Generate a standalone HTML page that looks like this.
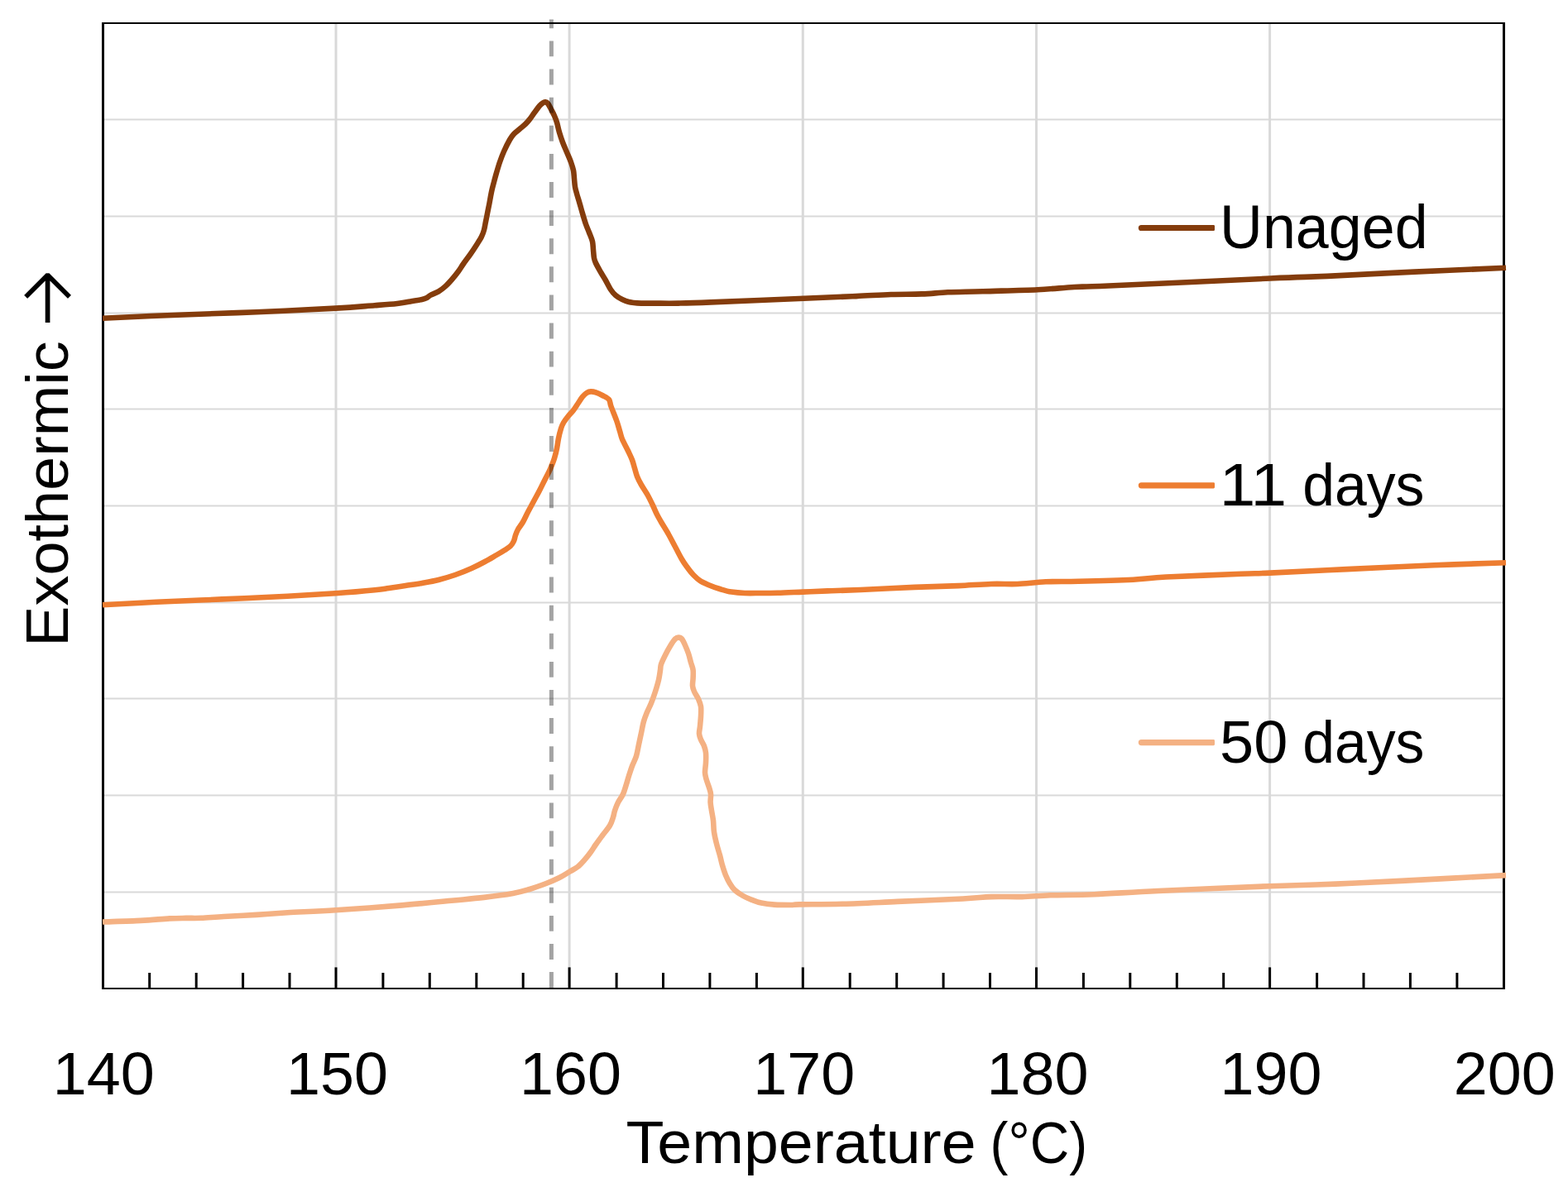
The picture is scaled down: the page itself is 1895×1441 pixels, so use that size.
<!DOCTYPE html>
<html lang="en"><head><meta charset="utf-8"><title>DSC thermograms</title>
<style>html,body{margin:0;padding:0;background:#fff;}body{width:1895px;height:1441px;overflow:hidden;}svg{display:block;}text{font-family:"Liberation Sans",Arial,sans-serif;fill:#000;}</style></head><body>
<svg width="1895" height="1441" viewBox="0 0 1895 1441">
<rect width="1895" height="1441" fill="#fff"/>
<g stroke="#d9d9d9" fill="none"><line x1="406.0" y1="29" x2="406.0" y2="1194" stroke-width="3"/><line x1="688.1" y1="29" x2="688.1" y2="1194" stroke-width="3"/><line x1="970.3" y1="29" x2="970.3" y2="1194" stroke-width="3"/><line x1="1252.5" y1="29" x2="1252.5" y2="1194" stroke-width="3"/><line x1="1534.6" y1="29" x2="1534.6" y2="1194" stroke-width="3"/><line x1="126" y1="144.5" x2="1816" y2="144.5" stroke-width="2.2"/><line x1="126" y1="261.5" x2="1816" y2="261.5" stroke-width="2.2"/><line x1="126" y1="378.5" x2="1816" y2="378.5" stroke-width="2.2"/><line x1="126" y1="494.5" x2="1816" y2="494.5" stroke-width="2.2"/><line x1="126" y1="611.5" x2="1816" y2="611.5" stroke-width="2.2"/><line x1="126" y1="728.5" x2="1816" y2="728.5" stroke-width="2.2"/><line x1="126" y1="844.5" x2="1816" y2="844.5" stroke-width="2.2"/><line x1="126" y1="961.5" x2="1816" y2="961.5" stroke-width="2.2"/><line x1="126" y1="1078.5" x2="1816" y2="1078.5" stroke-width="2.2"/></g>
<g fill="#000"><rect x="123" y="27" width="3" height="1169"/><rect x="1816" y="27" width="3" height="1169"/><rect x="123" y="27" width="1696" height="2"/><rect x="123" y="1194" width="1696" height="2"/></g>
<g fill="#000"><rect x="179.2" y="1176" width="3" height="19"/><rect x="235.7" y="1176" width="3" height="19"/><rect x="292.1" y="1176" width="3" height="19"/><rect x="348.5" y="1176" width="3" height="19"/><rect x="404.5" y="1169.4" width="3" height="25"/><rect x="461.4" y="1176" width="3" height="19"/><rect x="517.8" y="1176" width="3" height="19"/><rect x="574.3" y="1176" width="3" height="19"/><rect x="630.7" y="1176" width="3" height="19"/><rect x="686.6" y="1169.4" width="3" height="25"/><rect x="743.6" y="1176" width="3" height="19"/><rect x="800.0" y="1176" width="3" height="19"/><rect x="856.4" y="1176" width="3" height="19"/><rect x="912.9" y="1176" width="3" height="19"/><rect x="968.8" y="1169.4" width="3" height="25"/><rect x="1025.7" y="1176" width="3" height="19"/><rect x="1082.2" y="1176" width="3" height="19"/><rect x="1138.6" y="1176" width="3" height="19"/><rect x="1195.0" y="1176" width="3" height="19"/><rect x="1251.0" y="1169.4" width="3" height="25"/><rect x="1307.9" y="1176" width="3" height="19"/><rect x="1364.3" y="1176" width="3" height="19"/><rect x="1420.8" y="1176" width="3" height="19"/><rect x="1477.2" y="1176" width="3" height="19"/><rect x="1533.1" y="1169.4" width="3" height="25"/><rect x="1590.1" y="1176" width="3" height="19"/><rect x="1646.5" y="1176" width="3" height="19"/><rect x="1702.9" y="1176" width="3" height="19"/><rect x="1759.4" y="1176" width="3" height="19"/></g>
<path d="M124.0 384.7C139.2 384.0 184.0 381.9 215.0 380.7C246.0 379.4 278.2 378.5 310.0 377.2C341.8 375.9 381.9 373.9 405.7 372.6C429.5 371.3 440.5 370.1 452.9 369.2C465.3 368.3 472.8 367.8 480.0 367.0C487.2 366.2 491.0 365.2 496.0 364.4C501.0 363.6 506.7 362.7 510.0 362.0C513.3 361.3 514.3 360.8 516.0 360.0C517.7 359.2 517.7 358.3 520.0 357.0C522.3 355.7 527.0 354.2 530.0 352.4C533.0 350.6 535.3 348.8 538.0 346.4C540.7 344.0 543.3 341.1 546.0 338.0C548.7 334.9 551.7 331.2 554.0 328.0C556.3 324.8 557.7 322.3 560.0 319.0C562.3 315.7 565.3 311.8 568.0 308.0C570.7 304.2 573.7 299.7 576.0 296.0C578.3 292.3 580.5 289.0 582.0 286.0C583.5 283.0 584.2 281.0 585.0 278.0C585.8 275.0 586.3 271.3 587.0 268.0C587.7 264.7 588.3 261.7 589.0 258.0C589.7 254.3 590.6 250.3 591.4 246.0C592.2 241.7 593.1 236.3 594.0 232.0C594.9 227.7 596.0 223.8 597.0 220.0C598.0 216.2 598.8 213.0 600.0 209.0C601.2 205.0 602.5 200.3 604.0 196.0C605.5 191.7 607.0 187.5 609.0 183.0C611.0 178.5 614.0 172.5 616.0 169.0C618.0 165.5 619.0 164.2 621.0 162.0C623.0 159.8 625.7 158.0 628.0 156.0C630.3 154.0 633.0 151.9 635.0 150.0C637.0 148.1 638.2 146.7 640.0 144.4C641.8 142.1 644.0 138.7 646.0 136.0C648.0 133.3 650.3 129.9 652.0 128.0C653.7 126.1 654.8 125.2 656.0 124.4C657.2 123.6 658.0 123.3 659.0 123.4C660.0 123.5 660.8 123.6 662.0 125.0C663.2 126.4 664.7 129.5 666.0 132.0C667.3 134.5 668.8 137.3 670.0 140.0C671.2 142.7 672.0 144.7 673.0 148.0C674.0 151.3 674.8 156.0 676.0 160.0C677.2 164.0 678.5 168.0 680.0 172.0C681.5 176.0 683.3 180.0 685.0 184.0C686.7 188.0 688.7 192.3 690.0 196.0C691.3 199.7 692.3 202.7 693.0 206.0C693.7 209.3 693.7 212.7 694.0 216.0C694.3 219.3 694.5 223.0 695.0 226.0C695.5 229.0 696.2 231.0 697.0 234.0C697.8 237.0 698.8 240.0 700.0 244.0C701.2 248.0 702.7 253.5 704.0 258.0C705.3 262.5 706.7 267.2 708.0 271.0C709.3 274.8 710.7 277.5 712.0 281.0C713.3 284.5 715.2 288.5 716.0 292.0C716.8 295.5 716.7 298.7 717.0 302.0C717.3 305.3 717.5 309.3 718.0 312.0C718.5 314.7 718.7 315.2 720.0 318.0C721.3 320.8 724.0 325.5 726.0 329.0C728.0 332.5 730.0 335.5 732.0 339.0C734.0 342.5 736.0 347.0 738.0 350.0C740.0 353.0 741.7 355.0 744.0 357.0C746.3 359.0 749.3 360.7 752.0 362.0C754.7 363.3 757.0 364.3 760.0 365.0C763.0 365.7 765.0 366.1 770.0 366.4C775.0 366.7 781.7 366.6 790.0 366.6C798.3 366.6 808.5 366.8 820.0 366.6C831.5 366.4 833.8 366.4 859.0 365.4C884.2 364.4 942.1 361.9 971.4 360.7C1000.7 359.5 1017.1 358.9 1034.7 358.1C1052.3 357.3 1063.7 356.4 1076.9 356.0C1090.1 355.5 1102.4 355.9 1113.9 355.4C1125.3 355.0 1133.2 353.9 1145.5 353.3C1157.8 352.8 1169.7 352.8 1187.7 352.3C1205.8 351.7 1235.2 351.0 1253.7 350.2C1272.2 349.3 1284.2 347.8 1298.5 347.0C1312.9 346.2 1300.5 347.3 1340.0 345.5C1379.5 343.8 1491.3 338.5 1535.3 336.5C1579.2 334.6 1574.8 335.2 1603.9 333.9C1632.9 332.6 1673.4 330.3 1709.4 328.6C1745.4 326.9 1801.6 324.6 1820.0 323.8" fill="none" stroke="#843c0c" stroke-width="6.6" stroke-linejoin="round" stroke-linecap="butt"/>
<path d="M124.0 731.3C134.9 730.7 165.1 729.0 189.2 727.8C213.2 726.7 241.9 725.6 268.3 724.4C294.7 723.2 324.6 721.9 347.5 720.7C370.3 719.5 387.9 718.5 405.5 717.3C423.1 716.1 442.3 714.4 453.0 713.3C463.8 712.3 463.8 711.9 470.0 711.0C476.2 710.1 483.3 709.0 490.0 708.0C496.7 707.0 503.3 706.2 510.0 705.0C516.7 703.8 523.3 702.7 530.0 701.0C536.7 699.3 543.3 697.3 550.0 695.0C556.7 692.7 564.0 689.7 570.0 687.0C576.0 684.3 581.0 681.7 586.0 679.0C591.0 676.3 596.0 673.3 600.0 671.0C604.0 668.7 607.2 666.8 610.0 665.0C612.8 663.2 615.2 661.8 617.0 660.0C618.8 658.2 620.0 656.2 621.0 654.0C622.0 651.8 622.2 649.3 623.0 647.0C623.8 644.7 624.5 642.7 626.0 640.0C627.5 637.3 630.0 634.5 632.0 631.0C634.0 627.5 635.8 623.2 638.0 619.0C640.2 614.8 642.7 610.3 645.0 606.0C647.3 601.7 649.7 597.5 652.0 593.0C654.3 588.5 656.8 583.3 659.0 579.0C661.2 574.7 663.2 571.2 665.0 567.0C666.8 562.8 668.7 558.2 670.0 554.0C671.3 549.8 672.2 546.0 673.0 542.0C673.8 538.0 674.2 534.0 675.0 530.0C675.8 526.0 677.0 521.2 678.0 518.0C679.0 514.8 679.7 513.3 681.0 511.0C682.3 508.7 684.0 506.5 686.0 504.0C688.0 501.5 690.8 498.8 693.0 496.0C695.2 493.2 697.2 489.7 699.0 487.0C700.8 484.3 702.3 481.6 704.0 479.6C705.7 477.6 707.3 476.0 709.0 475.0C710.7 474.0 712.2 473.5 714.0 473.4C715.8 473.3 717.7 473.6 720.0 474.4C722.3 475.2 725.3 476.6 728.0 478.0C730.7 479.4 734.3 480.8 736.0 483.0C737.7 485.2 736.9 486.8 738.4 491.0C739.9 495.2 743.2 503.0 745.0 508.0C746.8 513.0 747.8 517.2 749.0 521.0C750.2 524.8 750.3 527.0 752.0 531.0C753.7 535.0 757.0 540.8 759.0 545.0C761.0 549.2 762.7 552.5 764.0 556.0C765.3 559.5 766.0 562.7 767.0 566.0C768.0 569.3 768.7 572.7 770.0 576.0C771.3 579.3 772.8 582.2 775.0 586.0C777.2 589.8 780.7 594.8 783.0 599.0C785.3 603.2 787.2 607.2 789.0 611.0C790.8 614.8 792.3 618.7 794.0 622.0C795.7 625.3 796.7 627.0 799.0 631.0C801.3 635.0 805.2 641.0 808.0 646.0C810.8 651.0 813.3 656.0 816.0 661.0C818.7 666.0 821.7 672.0 824.0 676.0C826.3 680.0 827.7 681.8 830.0 685.0C832.3 688.2 835.3 692.2 838.0 695.0C840.7 697.8 843.0 700.0 846.0 702.0C849.0 704.0 852.0 705.3 856.0 707.0C860.0 708.7 865.3 710.6 870.0 712.0C874.7 713.4 879.0 714.8 884.0 715.6C889.0 716.4 894.0 716.8 900.0 717.0C906.0 717.2 913.3 717.0 920.0 717.0C926.7 717.0 931.7 717.0 940.0 716.8C948.3 716.6 960.0 716.0 970.0 715.6C980.0 715.2 988.3 714.8 1000.0 714.4C1011.7 714.0 1022.4 713.7 1040.0 713.0C1057.6 712.3 1085.8 710.7 1105.5 709.9C1125.3 709.1 1142.9 708.7 1158.3 708.1C1173.7 707.4 1186.0 706.3 1197.9 706.0C1209.8 705.6 1218.6 706.4 1229.6 706.0C1240.5 705.5 1251.5 703.9 1263.9 703.3C1276.2 702.8 1285.8 703.2 1303.4 702.8C1321.0 702.4 1351.8 701.6 1369.4 700.7C1387.0 699.8 1387.2 698.7 1409.0 697.5C1430.7 696.4 1479.0 694.7 1500.0 693.8C1521.0 693.0 1513.9 693.5 1535.1 692.6C1556.4 691.6 1594.5 689.6 1627.5 688.1C1660.4 686.5 1700.9 684.6 1733.0 683.3C1765.1 682.0 1805.5 680.7 1820.0 680.2" fill="none" stroke="#ed7d31" stroke-width="6.6" stroke-linejoin="round" stroke-linecap="butt"/>
<path d="M124.0 1114.5C131.7 1114.2 156.5 1113.6 170.0 1112.9C183.5 1112.2 195.8 1110.9 205.0 1110.4C214.2 1109.9 218.7 1110.0 225.0 1109.9C231.3 1109.8 235.4 1110.1 243.0 1109.8C250.6 1109.5 259.2 1108.6 270.4 1108.0C281.6 1107.3 297.2 1106.7 310.0 1105.9C322.8 1105.1 331.5 1104.3 347.5 1103.3C363.4 1102.4 383.5 1101.6 405.5 1100.2C427.5 1098.8 456.1 1096.8 479.4 1094.9C502.7 1093.0 527.8 1090.5 545.4 1088.8C562.9 1087.1 572.5 1086.3 584.9 1084.9C597.4 1083.4 610.8 1081.6 620.0 1080.0C629.2 1078.4 633.3 1077.0 640.0 1075.0C646.7 1073.0 654.0 1070.3 660.0 1068.0C666.0 1065.7 671.3 1063.3 676.0 1061.0C680.7 1058.7 684.3 1056.2 688.0 1054.0C691.7 1051.8 695.0 1050.3 698.0 1048.0C701.0 1045.7 703.3 1043.0 706.0 1040.0C708.7 1037.0 711.7 1033.2 714.0 1030.0C716.3 1026.8 717.7 1024.3 720.0 1021.0C722.3 1017.7 725.2 1013.8 728.0 1010.0C730.8 1006.2 734.8 1001.7 737.0 998.0C739.2 994.3 740.0 991.0 741.0 988.0C742.0 985.0 742.0 983.0 743.0 980.0C744.0 977.0 745.3 973.3 747.0 970.0C748.7 966.7 751.3 963.7 753.0 960.0C754.7 956.3 755.8 951.7 757.0 948.0C758.2 944.3 758.8 941.7 760.0 938.0C761.2 934.3 762.5 930.0 764.0 926.0C765.5 922.0 767.7 918.3 769.0 914.0C770.3 909.7 771.0 904.7 772.0 900.0C773.0 895.3 774.0 890.7 775.0 886.0C776.0 881.3 776.8 876.2 778.0 872.0C779.2 867.8 780.5 864.7 782.0 861.0C783.5 857.3 785.3 854.2 787.0 850.0C788.7 845.8 790.5 840.7 792.0 836.0C793.5 831.3 795.0 826.3 796.0 822.0C797.0 817.7 797.5 813.2 798.0 810.0C798.5 806.8 798.0 806.0 799.0 803.0C800.0 800.0 802.2 795.7 804.0 792.0C805.8 788.3 808.0 784.3 810.0 781.0C812.0 777.7 814.3 774.1 816.0 772.4C817.7 770.7 818.7 770.6 820.0 770.6C821.3 770.6 822.7 770.8 824.0 772.4C825.3 774.0 826.7 777.1 828.0 780.0C829.3 782.9 830.8 786.5 832.0 790.0C833.2 793.5 834.1 797.7 835.0 801.0C835.9 804.3 837.2 806.8 837.6 810.0C838.0 813.2 837.7 816.8 837.6 820.0C837.5 823.2 836.8 826.3 837.0 829.0C837.2 831.7 837.8 833.3 839.0 836.0C840.2 838.7 842.7 842.0 844.0 845.0C845.3 848.0 846.5 850.5 847.0 854.0C847.5 857.5 847.2 862.0 847.0 866.0C846.8 870.0 846.3 874.5 846.0 878.0C845.7 881.5 844.8 884.3 845.0 887.0C845.2 889.7 846.0 891.5 847.0 894.0C848.0 896.5 850.0 899.3 851.0 902.0C852.0 904.7 852.7 906.7 853.0 910.0C853.3 913.3 853.2 918.0 853.0 922.0C852.8 926.0 851.9 930.7 852.0 934.0C852.1 937.3 852.8 939.0 853.6 942.0C854.4 945.0 856.1 949.0 857.0 952.0C857.9 955.0 858.7 957.0 859.0 960.0C859.3 963.0 858.4 966.7 858.6 970.0C858.8 973.3 859.4 976.3 860.0 980.0C860.6 983.7 861.5 987.7 862.0 992.0C862.5 996.3 862.3 1001.3 863.0 1006.0C863.7 1010.7 864.8 1015.3 866.0 1020.0C867.2 1024.7 868.8 1029.7 870.0 1034.0C871.2 1038.3 871.8 1042.0 873.0 1046.0C874.2 1050.0 875.5 1054.3 877.0 1058.0C878.5 1061.7 880.2 1065.0 882.0 1068.0C883.8 1071.0 885.3 1073.5 888.0 1076.0C890.7 1078.5 894.7 1081.1 898.0 1083.0C901.3 1084.9 904.3 1086.2 908.0 1087.6C911.7 1089.0 915.3 1090.6 920.0 1091.6C924.7 1092.6 930.0 1093.2 936.0 1093.6C942.0 1094.0 951.0 1094.0 956.0 1094.0C961.0 1094.0 955.5 1093.5 966.0 1093.4C976.4 1093.2 998.9 1093.4 1018.7 1092.8C1038.5 1092.3 1060.5 1091.0 1084.7 1089.9C1108.9 1088.9 1144.9 1087.5 1163.9 1086.5C1182.8 1085.5 1186.3 1084.5 1198.2 1084.1C1210.0 1083.7 1223.2 1084.4 1235.1 1084.1C1247.0 1083.8 1254.9 1082.8 1269.4 1082.3C1283.9 1081.8 1300.4 1082.1 1322.2 1081.2C1343.9 1080.3 1364.5 1078.7 1400.0 1077.0C1435.5 1075.3 1499.4 1072.6 1535.1 1071.2C1570.8 1069.8 1587.9 1069.7 1614.3 1068.6C1640.7 1067.5 1659.1 1066.7 1693.4 1064.9C1727.7 1063.1 1798.9 1059.2 1820.0 1058.1" fill="none" stroke="#f4b183" stroke-width="6.6" stroke-linejoin="round" stroke-linecap="butt"/>
<line x1="666.4" y1="1194" x2="666.4" y2="23.5" stroke="#000" stroke-opacity="0.36" stroke-width="5" stroke-dasharray="18.9 15.21"/>
<path d="M1379.4 271.90H1466.6q1.4 0 1.4 1.4v4.4q0 1.4 -1.4 1.4H1379.4a3.6 3.6 0 0 1 0 -7.2z" fill="#843c0c"/>
<path d="M1379.4 583.20H1466.6q1.4 0 1.4 1.4v4.4q0 1.4 -1.4 1.4H1379.4a3.6 3.6 0 0 1 0 -7.2z" fill="#ed7d31"/>
<path d="M1379.4 894.00H1466.6q1.4 0 1.4 1.4v4.4q0 1.4 -1.4 1.4H1379.4a3.6 3.6 0 0 1 0 -7.2z" fill="#f4b183"/>
<text y="299.8" font-size="73.5"><tspan x="1474.1" textLength="251.5" lengthAdjust="spacingAndGlyphs">Unaged</tspan></text>
<text y="610.8" font-size="72"><tspan x="1473.7" textLength="81.3" lengthAdjust="spacingAndGlyphs">11</tspan> <tspan x="1574.2" textLength="147.3" lengthAdjust="spacingAndGlyphs" font-size="72.5">days</tspan></text>
<text y="922" font-size="72"><tspan x="1474.0" textLength="82.3" lengthAdjust="spacingAndGlyphs">50</tspan> <tspan x="1574.2" textLength="147.3" lengthAdjust="spacingAndGlyphs" font-size="72.5">days</tspan></text>
<text x="125.3" y="1323" font-size="72" text-anchor="middle" textLength="123" lengthAdjust="spacingAndGlyphs">140</text>
<text x="407.5" y="1323" font-size="72" text-anchor="middle" textLength="123" lengthAdjust="spacingAndGlyphs">150</text>
<text x="689.6" y="1323" font-size="72" text-anchor="middle" textLength="123" lengthAdjust="spacingAndGlyphs">160</text>
<text x="971.8" y="1323" font-size="72" text-anchor="middle" textLength="123" lengthAdjust="spacingAndGlyphs">170</text>
<text x="1254.0" y="1323" font-size="72" text-anchor="middle" textLength="123" lengthAdjust="spacingAndGlyphs">180</text>
<text x="1536.1" y="1323" font-size="72" text-anchor="middle" textLength="123" lengthAdjust="spacingAndGlyphs">190</text>
<text x="1818.3" y="1323" font-size="72" text-anchor="middle" textLength="123" lengthAdjust="spacingAndGlyphs">200</text>
<text y="1406.3" font-size="73"><tspan x="756.6" textLength="423.0" lengthAdjust="spacingAndGlyphs">Temperature</tspan> <tspan x="1196.6" textLength="117.5" lengthAdjust="spacingAndGlyphs" font-size="70">(°C)</tspan></text>
<text transform="translate(82 775.7) rotate(-90)" font-size="73"><tspan x="-6.1" textLength="369.5" lengthAdjust="spacingAndGlyphs">Exothermic</tspan></text>
<clipPath id="ac"><rect x="0" y="300" width="122" height="90"/></clipPath>
<g clip-path="url(#ac)"><text transform="translate(106.5 450.75) rotate(-90)" font-size="157.2" style="font-family:'DejaVu Sans',sans-serif" stroke="#fff" stroke-width="7.25">→</text></g>
</svg></body></html>
